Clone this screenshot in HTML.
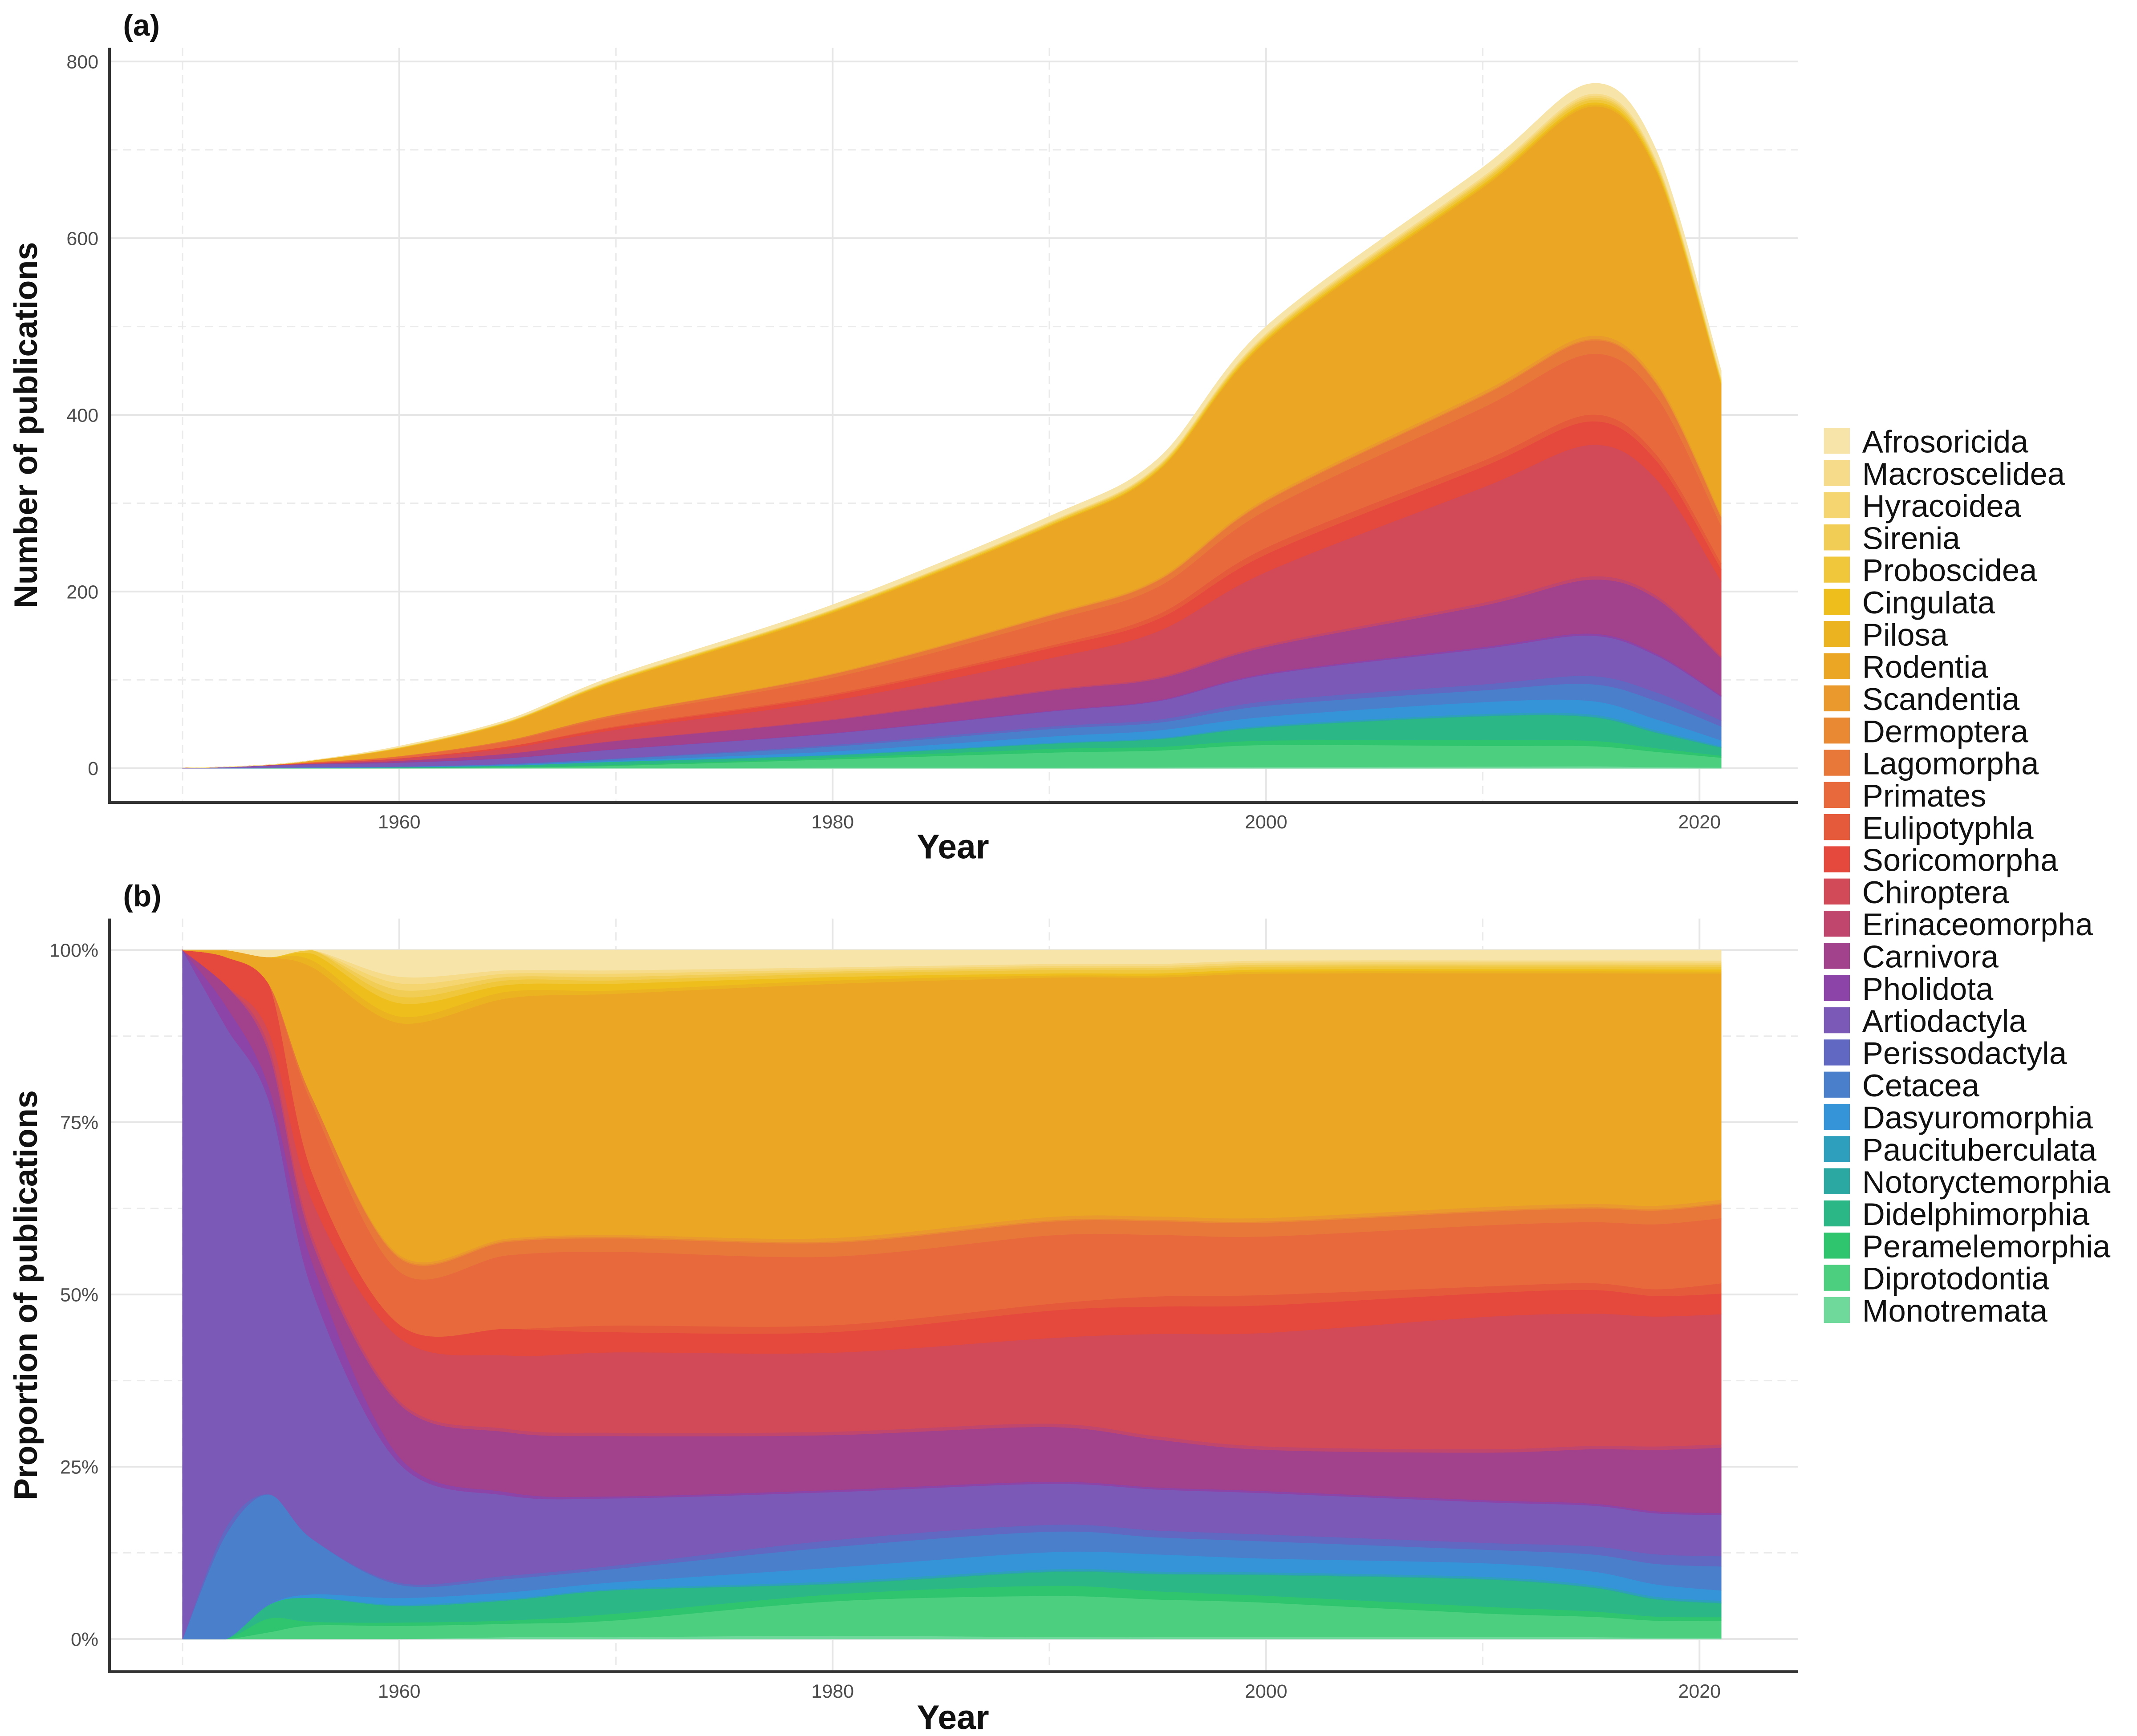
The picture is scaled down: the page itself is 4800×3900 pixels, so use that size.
<!DOCTYPE html>
<html><head><meta charset="utf-8"><style>
html,body{margin:0;padding:0;background:#fff;}
svg{display:block;font-family:"Liberation Sans",sans-serif;}
</style></head><body>
<svg id="chart" width="4800" height="3900" viewBox="0 0 1563 1270" preserveAspectRatio="none" xmlns="http://www.w3.org/2000/svg">
<rect width="1563" height="1270" fill="#fff"/>
</svg>
<script>
const years=[1950,1952,1954,1956,1960,1965,1970,1980,1990,1995,2000,2010,2015,2018,2021];
const totals=[0.3,1.5,4,9,25,55,105,185,285,350,500,680,775,700,450];
const seriesNames=["Monotremata","Diprotodontia","Peramelemorphia","Didelphimorphia","Notoryctemorphia","Paucituberculata","Dasyuromorphia","Cetacea","Perissodactyla","Artiodactyla","Pholidota","Carnivora","Erinaceomorpha","Chiroptera","Soricomorpha","Eulipotyphla","Primates","Lagomorpha","Dermoptera","Scandentia","Rodentia","Pilosa","Cingulata","Proboscidea","Sirenia","Hyracoidea","Macroscelidea","Afrosoricida"];
const Monotremata=[0,0,0,0,0,0.3,0.3,0.5,0.3,0.3,0.3,0.3,0.3,0.2,0.2];
const Diprotodontia=[0,0,1,2,2,2,2.5,5,6,5.5,5,3.5,3,2.5,2.5];
const Peramelemorphia=[0,0,2,0.5,0.5,0.5,1,1,1.5,1.2,1,1,0.8,0.6,0.5];
const Didelphimorphia=[0,0,2,3.5,2.5,3,3.5,1.5,2,2.5,3,4,3.5,2.5,2];
const Notoryctemorphia=[0,0,0,0,0,0,0,0.1,0.1,0.1,0.1,0.1,0.1,0.1,0.1];
const Paucituberculata=[0,0,0,0,0.2,0.2,0.2,0.3,0.3,0.3,0.3,0.3,0.3,0.3,0.3];
const Dasyuromorphia=[0,0,0,0.5,1,1,1,2,2.5,2.5,2,2,2,1.8,1.5];
const Cetacea=[0,15,16,8,2,2,2,3,3,2.5,2.5,2,2.5,3,3.5];
const Perissodactyla=[0,1,0,0,0.3,0.5,0.5,1,1,1,1,1,1.2,1.4,1.5];
const Artiodactyla=[100,72,57,36,18,12,10,7,6,6,6,6,6,6,6];
const Pholidota=[0,3,2,4,1,0.5,0.3,0.3,0.3,0.3,0.3,0.3,0.3,0.3,0.3];
const Carnivora=[0,3,5,3,8,9,9,8,8,7,6,7,8,9,9.5];
const Erinaceomorpha=[0,0,1,1,0.5,0.5,0.5,0.5,0.5,0.5,0.5,0.5,0.5,0.5,0.5];
const Chiroptera=[0,0,2,5,9.5,11,12,11.5,12.5,15,16.5,19.5,19.5,19,19];
const Soricomorpha=[0,4,7,4,2,4,3,3,4,4,4,3.5,3.5,3,3];
const Eulipotyphla=[0,0,0,0,0,0,1,1,1,1.5,1.5,1,1,1,1.5];
const Primates=[0,0,0,10,8,11,11,10,10,9,8.5,9,9,9.5,9.5];
const Lagomorpha=[0,0,0,1,2,2,2,2,2,2,2,2,2,2,2];
const Dermoptera=[0,0,0,0,0.2,0.2,0.2,0.2,0.2,0.2,0.2,0.2,0.2,0.2,0.2];
const Scandentia=[0,0,0,0,0.3,0.3,0.3,0.5,0.5,0.5,0.5,0.5,0.5,0.5,0.5];
const Rodentia=[0,1,4,19,35,36,36,37,35,35,35.5,34.5,34,34,33];
const Pilosa=[0,0,0,1,1,1,0.5,0.5,0.3,0.3,0.3,0.3,0.3,0.3,0.3];
const Cingulata=[0,0,0,1,2,1,1,0.5,0.3,0.3,0.3,0.3,0.3,0.3,0.3];
const Proboscidea=[0,0,0,0.5,1,0.7,0.5,0.5,0.5,0.5,0.4,0.4,0.4,0.4,0.4];
const Sirenia=[0,0,0,0,1,0.5,0.5,0.3,0.3,0.3,0.3,0.3,0.3,0.3,0.3];
const Hyracoidea=[0,0,0,0,1,0.5,0.5,0.3,0.3,0.3,0.3,0.3,0.3,0.3,0.3];
const Macroscelidea=[0,0,0,0,1,0.5,0.5,0.3,0.3,0.3,0.3,0.3,0.3,0.3,0.3];
const Afrosoricida=[0,0,1,0,4,3,3,2.5,2,2,1.5,1.5,1.5,1.5,1.5];
const xTicks=[1960,1980,2000,2020];
const xMinor=[1950,1970,1990,2010];
const yTicksA=[0,200,400,600,800];
const yTicksB=[0,25,50,75,100];
const yTickLabelsB=["0%","25%","50%","75%","100%"];

const shares=[Monotremata,Diprotodontia,Peramelemorphia,Didelphimorphia,Notoryctemorphia,Paucituberculata,Dasyuromorphia,Cetacea,Perissodactyla,Artiodactyla,Pholidota,Carnivora,Erinaceomorpha,Chiroptera,Soricomorpha,Eulipotyphla,Primates,Lagomorpha,Dermoptera,Scandentia,Rodentia,Pilosa,Cingulata,Proboscidea,Sirenia,Hyracoidea,Macroscelidea,Afrosoricida];
const colors=["#6fd89b","#4cd07f","#2fc46e","#2cb787","#2ba8a2","#2e9fbd","#3594d8","#4a7fcc","#6068c2","#7b59b7","#8c44a8","#a2418c","#c0466e","#d24a57","#e5483c","#e65a3c","#e86a3c","#e7783a","#e98933","#ea9a2c","#eba624","#ecb320","#eebf1c","#f0c63a","#f2cd55","#f4d56f","#f6dc8a","#f7e4a9"];

const NS="http://www.w3.org/2000/svg";
const svg=document.getElementById('chart');
function mk(tag,attrs,parent){const e=document.createElementNS(NS,tag);for(const k in attrs)e.setAttribute(k,attrs[k]);(parent||svg).appendChild(e);return e;}
const xScale=y=>133.5+(y-1950)*15.85;
const panels=[
 {top:35,bottom:587,y0:562,y1:45,vmax:800,ticks:yTicksA,labels:yTicksA.map(String),minor:[100,300,500,700],prop:false,tag:"(a)",tagY:26,title:"Number of publications",yearY:628},
 {top:672,bottom:1223,y0:1199,y1:695,vmax:100,ticks:yTicksB,labels:yTickLabelsB,minor:[12.5,37.5,62.5,87.5],prop:true,tag:"(b)",tagY:663,title:"Proportion of publications",yearY:1265}
];
function smooth(pts,lo,hi){
 let d="";
 const cl=v=>Math.min(lo,Math.max(hi,v));
 for(let i=0;i<pts.length;i++){
  const p=pts[i];
  if(i===0){d+="M"+p[0].toFixed(2)+","+p[1].toFixed(2);continue;}
  const p0=pts[Math.max(i-2,0)],p1=pts[i-1],p2=p,p3=pts[Math.min(i+1,pts.length-1)];
  const t=0.16;
  const c1=[p1[0]+(p2[0]-p0[0])*t,cl(p1[1]+(p2[1]-p0[1])*t)];
  const c2=[p2[0]-(p3[0]-p1[0])*t,cl(p2[1]-(p3[1]-p1[1])*t)];
  d+="C"+c1[0].toFixed(2)+","+c1[1].toFixed(2)+" "+c2[0].toFixed(2)+","+c2[1].toFixed(2)+" "+p2[0].toFixed(2)+","+p2[1].toFixed(2);
 }
 return d;
}
panels.forEach((P,pi)=>{
 const g=mk('g',{});
 
 
 const ys=v=>P.y0-(v/P.vmax)*(P.y0-P.y1);
 P.minor.forEach(v=>{const l=mk('line',{x1:80,x2:1315,y1:ys(v),y2:ys(v),stroke:'#ebebeb','stroke-width':1,'stroke-dasharray':'6,4'},g);
  });
 xMinor.forEach(v=>{const l=mk('line',{x1:xScale(v),x2:xScale(v),y1:P.top,y2:P.bottom,stroke:'#ebebeb','stroke-width':1,'stroke-dasharray':'6,4'},g);
  });
 P.ticks.forEach((v,i)=>{const l=mk('line',{x1:80,x2:1315,y1:ys(v),y2:ys(v),stroke:'#e6e6e6','stroke-width':1.3},g);
  
  const t=mk('text',{x:72,y:ys(v)+5,'text-anchor':'end','font-size':14,fill:'#4d4d4d'},g);t.textContent=P.labels[i];
  });
 xTicks.forEach(v=>{const l=mk('line',{x1:xScale(v),x2:xScale(v),y1:P.top,y2:P.bottom,stroke:'#e6e6e6','stroke-width':1.3},g);
  
  const t=mk('text',{x:xScale(v),y:P.bottom+19,'text-anchor':'middle','font-size':14,fill:'#4d4d4d'},g);t.textContent=v;
  });
 let cum=years.map(()=>0);
 shares.forEach((s,si)=>{
  const lower=cum.slice();
  const upper=years.map((y,i)=>{const sum=shares.reduce((a,ss)=>a+ss[i],0);const frac=s[i]/sum;return lower[i]+(P.prop?frac*100:frac*totals[i]);});
  cum=upper;
  const top=years.map((y,i)=>[xScale(y),ys(upper[i])]);
  const bot=years.map((y,i)=>[xScale(y),ys(lower[i])]).reverse();
  const d=smooth(top,P.y0,P.y1)+"L"+smooth(bot,P.y0,P.y1).slice(1)+"Z";
  const p=mk('path',{d:d,fill:colors[si],stroke:colors[si],'stroke-width':0.4},g);
  
  
 });
 const ax=mk('line',{x1:80,x2:80,y1:P.top,y2:P.bottom,stroke:'#333','stroke-width':2.2},g);
 
 const bx=mk('line',{x1:79,x2:1315,y1:P.bottom,y2:P.bottom,stroke:'#333','stroke-width':2.2},g);
 
 const yt=mk('text',{x:0,y:0,transform:`translate(27,${(P.top+P.bottom)/2}) rotate(-90)`,'text-anchor':'middle','font-size':24,'font-weight':'bold',fill:'#111'},g);
 yt.textContent=P.title;
 const xt=mk('text',{x:697,y:P.yearY,'text-anchor':'middle','font-size':25,'font-weight':'bold',fill:'#111'},g);
 xt.textContent="Year";
 const tg=mk('text',{x:90,y:P.tagY,'font-size':22,'font-weight':'bold',fill:'#111'},g);
 tg.textContent=P.tag;
});
const lg=mk('g',{});


const order=seriesNames.map((n,i)=>i).reverse();
order.forEach((si,k)=>{
 const y=323+k*23.55;
 const r=mk('rect',{x:1334,y:y-10,width:19,height:19,fill:colors[si]},lg);
 
 const t=mk('text',{x:1362,y:y+8,'font-size':23,fill:'#111'},lg);t.textContent=seriesNames[si];
 
});
</script>
</body></html>
